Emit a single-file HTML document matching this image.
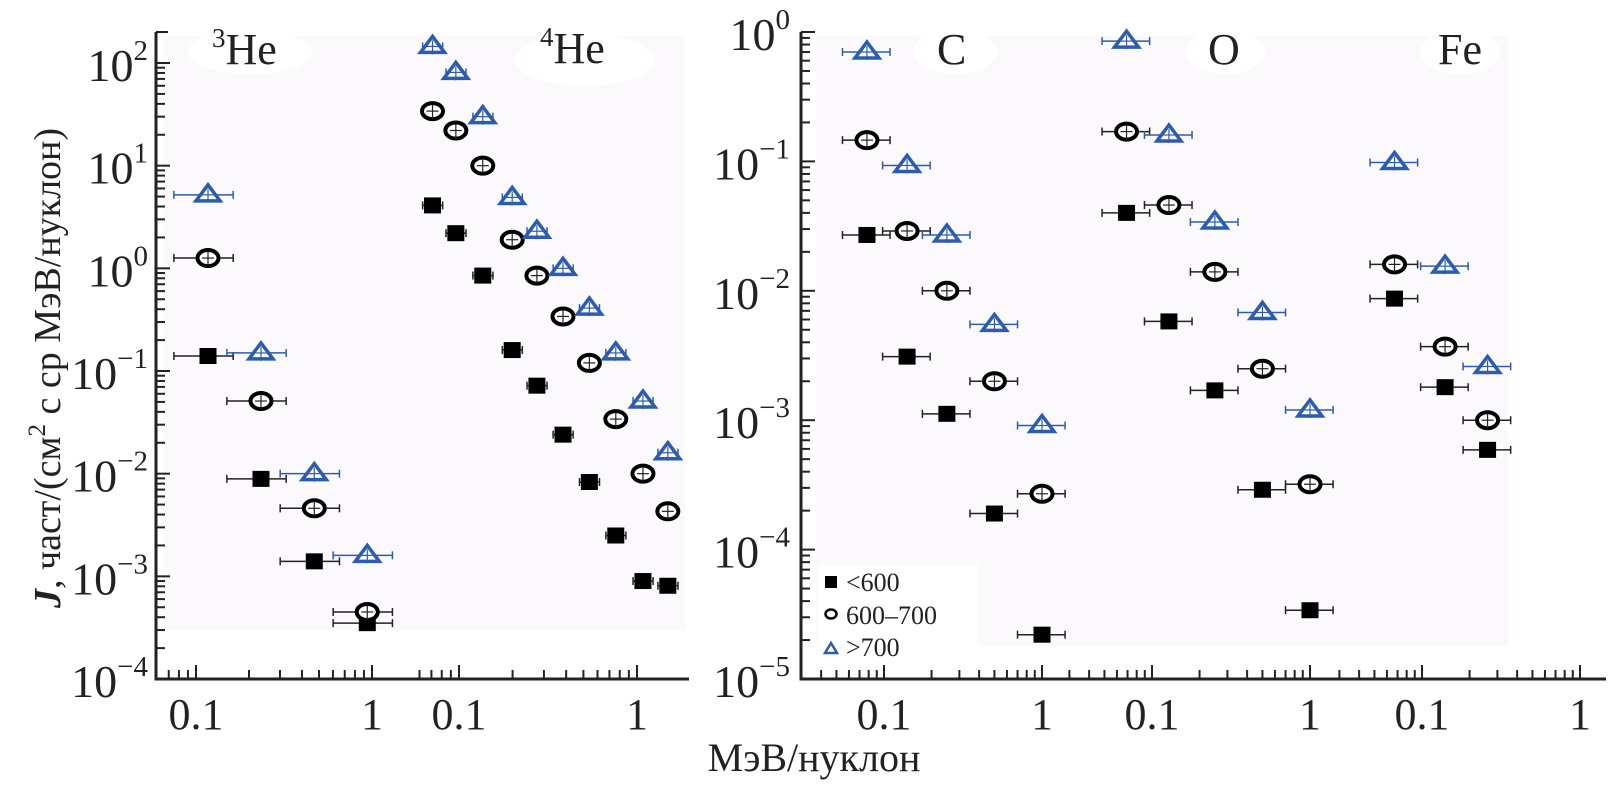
<!DOCTYPE html>
<html><head><meta charset="utf-8">
<style>
html,body{margin:0;padding:0;background:#fff;}
svg{display:block;font-family:"Liberation Serif","Noto Serif CJK SC",serif;}
svg text{font-family:"Liberation Serif","Noto Serif CJK SC",serif;}
</style></head>
<body>
<svg id="chart" width="1608" height="785" viewBox="0 0 1608 785" xmlns="http://www.w3.org/2000/svg" font-family="Liberation Serif, serif">
  <rect x="163" y="36" width="522" height="594" fill="#fcf9fc"/>
  <rect x="816" y="36" width="692" height="610" fill="#fcf9fc"/>
  <g id="blobs" fill="#fff">
    <ellipse cx="250" cy="52" rx="62" ry="22"/>
    <ellipse cx="585" cy="60" rx="70" ry="26"/>
    <ellipse cx="955" cy="52" rx="42" ry="22"/>
    <ellipse cx="1225" cy="52" rx="40" ry="22"/>
    <ellipse cx="1460" cy="52" rx="40" ry="22"/>
    <rect x="818" y="565" width="160" height="95"/>
  </g>
  <g id="axes"></g>
  <g id="marks"></g>
  <text x="212" y="64" font-size="44" fill="#222"><tspan font-size="27" dy="-17">3</tspan><tspan dy="17">He</tspan></text>
  <text x="540" y="63" font-size="44" fill="#222"><tspan font-size="27" dy="-17">4</tspan><tspan dy="17">He</tspan></text>
  <text x="937" y="64" font-size="44" fill="#222">C</text>
  <text x="1208" y="64" font-size="44" fill="#222">O</text>
  <text x="1438" y="64" font-size="44" fill="#222">Fe</text>
  <text transform="translate(60,368) rotate(-90)" text-anchor="middle" font-size="38" fill="#222"><tspan font-style="italic" font-weight="bold">J</tspan>, част/(см<tspan font-size="25" dy="-15">2</tspan><tspan dy="15"> с ср МэВ/нуклон)</tspan></text>
  <text x="814" y="771" text-anchor="middle" font-size="40" fill="#222">МэВ/нуклон</text>
  <g>
    <rect x="825" y="576" width="12" height="12" fill="#000"/>
    <text x="846" y="591" font-size="26" fill="#222">&lt;600</text>
    <ellipse cx="831" cy="614" rx="5.5" ry="4.5" fill="none" stroke="#000" stroke-width="2.5"/>
    <text x="846" y="624" font-size="26" fill="#222">600–700</text>
    <polygon points="825,653 837,653 831,643" fill="none" stroke="#2b5cb0" stroke-width="2.5"/>
    <text x="846" y="656" font-size="26" fill="#222">&gt;700</text>
  </g>
</svg>
<script>
// ---- data ----
const he3Energy = [0.117, 0.234, 0.47, 0.94];
const he3Low = [0.14, 0.0089, 0.0014, 0.00035];
const he3Mid = [1.26, 0.051, 0.0046, 0.00045];
const he3High = [5.2, 0.15, 0.010, 0.0016];

const he4Energy = [0.071, 0.096, 0.136, 0.199, 0.274, 0.384, 0.54, 0.76, 1.08, 1.49];
const he4Low = [4.1, 2.2, 0.85, 0.16, 0.072, 0.024, 0.0083, 0.0025, 0.0009, 0.00081];
const he4Mid = [34, 22, 10, 1.9, 0.85, 0.34, 0.12, 0.034, 0.010, 0.0043];
const he4High = [145, 81, 30, 4.9, 2.3, 1.0, 0.41, 0.15, 0.051, 0.016];

const cEnergy = [0.078, 0.14, 0.25, 0.5, 1.0];
const cLow = [0.027, 0.0031, 0.00112, 0.00019, 0.000022];
const cMid = [0.146, 0.029, 0.010, 0.0020, 0.00027];
const cHigh = [0.70, 0.093, 0.027, 0.0055, 0.00091];

const oEnergy = [0.069, 0.128, 0.25, 0.5, 1.0];
const oLow = [0.040, 0.0058, 0.0017, 0.00029, 0.000034];
const oMid = [0.17, 0.046, 0.014, 0.0025, 0.00032];
const oHigh = [0.85, 0.16, 0.034, 0.0068, 0.0012];

const feEnergy = [0.067, 0.14, 0.26];
const feLow = [0.0087, 0.0018, 0.00059];
const feMid = [0.016, 0.0037, 0.0010];
const feHigh = [0.098, 0.0155, 0.0026];

const leftYTicks = ["2", "1", "0", "−1", "−2", "−3", "−4"];
const rightYTicks = ["0", "−1", "−2", "−3", "−4", "−5"];
const xTickLabels = ["0.1", "1"];

// ---- scales ----
const L = Math.log10;
const yLeft = v => 63 + (2 - L(v)) * 102.67;
const yRight = v => 32 + (0 - L(v)) * 129.4;
const xHe3 = e => 372 + 176 * L(e);
const xHe4 = e => 637 + 178 * L(e);
const xC = e => 1042 + 158 * L(e);
const xO = e => 1310 + 158 * L(e);
const xFe = e => 1580 + 158 * L(e);

const NS = "http://www.w3.org/2000/svg";
const axes = document.getElementById("axes");
const marks = document.getElementById("marks");
function mk(tag, attrs, parent) {
  const el = document.createElementNS(NS, tag);
  for (const k in attrs) el.setAttribute(k, attrs[k]);
  parent.appendChild(el);
  return el;
}

function axisFrame(x0, x1, yTop, yBot, name) {
  const a = mk("line", {x1: x0, y1: yTop, x2: x0, y2: yBot, stroke: "#222", "stroke-width": 3}, axes);
  
  
  const b = mk("line", {x1: x0 - 1.5, y1: yBot, x2: x1, y2: yBot, stroke: "#222", "stroke-width": 3}, axes);
  
  
  const t = mk("line", {x1: x0, y1: yTop, x2: x0 + 12, y2: yTop, stroke: "#222", "stroke-width": 2}, axes);
  
  
}
axisFrame(156, 689, 32, 679, "left");
axisFrame(801, 1606, 32, 679, "right");

function yTicks(x0, yFn, decTop, decBot, labels, labelX, topV) {
  for (let d = decTop; d >= decBot; d--) {
    const y = yFn(Math.pow(10, d));
    const tk = mk("line", {x1: x0, y1: y, x2: x0 + 14, y2: y, stroke: "#222", "stroke-width": 2}, axes);
    
    
    const tx = mk("text", {x: labelX, y: y + 18, "text-anchor": "end", "font-size": 46, fill: "#222"}, axes);
    
    
    const idx = decTop - d;
    tx.innerHTML = '10<tspan font-size="29" dy="-21">' + labels[idx] + '</tspan>';
    if (d > decBot) {
      for (let m = 2; m <= 9; m++) {
        const ym = yFn(m * Math.pow(10, d - 1));
        const mt = mk("line", {x1: x0, y1: ym, x2: x0 + 9, y2: ym, stroke: "#222", "stroke-width": 2}, axes);
        
        
      }
    }
  }
  if (topV) {
    for (let m = 2; m <= 9; m++) {
      const v = m * Math.pow(10, decTop);
      if (v > topV) break;
      const ym = yFn(v);
      const mt = mk("line", {x1: x0, y1: ym, x2: x0 + 9, y2: ym, stroke: "#222", "stroke-width": 2}, axes);
      
      
    }
  }
}
yTicks(156, yLeft, 2, -4, leftYTicks, 148, 200);
yTicks(801, yRight, 0, -5, rightYTicks, 790, 0);

function xTicks(xFn, startMinor, yBot) {
  const vals = [];
  for (let m = startMinor; m <= 9; m++) vals.push(m * 0.01);
  for (let m = 1; m <= 10; m++) vals.push(m * 0.1);
  vals.forEach(v => {
    const major = Math.abs(v - 0.1) < 1e-9 || Math.abs(v - 1) < 1e-9;
    const x = xFn(v);
    const tk = mk("line", {x1: x, y1: yBot, x2: x, y2: yBot - (major ? 14 : 9), stroke: "#222", "stroke-width": 2}, axes);
    
    
  });
  [0.1, 1].forEach((v, i) => {
    const tx = mk("text", {x: xFn(v), y: yBot + 50, "text-anchor": "middle", "font-size": 44, fill: "#222"}, axes);
    
    
    tx.textContent = xTickLabels[i];
  });
}
xTicks(xHe3, 7, 679);
xTicks(xHe4, 6, 679);
xTicks(xC, 4, 679);
xTicks(xO, 3, 679);
xTicks(xFe, 3, 679);

// ---- marks ----
const BLUE = "#2b5cb0";
function errBar(x1, x2, y, color, w) {
  const l = mk("line", {x1: x1, y1: y, x2: x2, y2: y, stroke: color, "stroke-width": w}, marks);
  
  
  [x1, x2].forEach(xx => {
    const c = mk("line", {x1: xx, y1: y - 4, x2: xx, y2: y + 4, stroke: color, "stroke-width": w}, marks);
    
    
  });
}
function series(energy, values, xFn, yFn, kind, lo, hi, name) {
  energy.forEach((e, i) => {
    const x = xFn(e), y = yFn(values[i]);
    const color = kind === "tri" ? BLUE : "#222";
    errBar(xFn(e * lo), xFn(e * hi), y, color, 1.5);
    let el;
    if (kind === "sq") {
      el = mk("rect", {x: x - 8.5, y: y - 8, width: 17, height: 16, fill: "#000"}, marks);
    } else if (kind === "circ") {
      el = mk("ellipse", {cx: x, cy: y, rx: 10.5, ry: 8, fill: "#fff", stroke: "#000", "stroke-width": 4}, marks);
    } else {
      el = mk("polygon", {points: (x - 12) + "," + (y + 6) + " " + (x + 12) + "," + (y + 6) + " " + x + "," + (y - 10), fill: "#fff", stroke: BLUE, "stroke-width": 3.5, "stroke-linejoin": "miter"}, marks);
    }
    
    
    if (kind !== "sq") {
      const v = mk("line", {x1: x, y1: y - 6, x2: x, y2: y + 8, stroke: color, "stroke-width": 1.2}, marks);
      
      
      const h = mk("line", {x1: x - 6, y1: y, x2: x + 6, y2: y, stroke: color, "stroke-width": 1.2}, marks);
      
      
    }
  });
}
series(he3Energy, he3Low, xHe3, yLeft, "sq", 0.64, 1.39, "he3-lt600");
series(he3Energy, he3Mid, xHe3, yLeft, "circ", 0.64, 1.39, "he3-600-700");
series(he3Energy, he3High, xHe3, yLeft, "tri", 0.64, 1.39, "he3-gt700");
series(he4Energy, he4Low, xHe4, yLeft, "sq", 0.88, 1.14, "he4-lt600");
series(he4Energy, he4Mid, xHe4, yLeft, "circ", 0.88, 1.14, "he4-600-700");
series(he4Energy, he4High, xHe4, yLeft, "tri", 0.88, 1.14, "he4-gt700");
series(cEnergy, cLow, xC, yRight, "sq", 0.7, 1.4, "c-lt600");
series(cEnergy, cMid, xC, yRight, "circ", 0.7, 1.4, "c-600-700");
series(cEnergy, cHigh, xC, yRight, "tri", 0.7, 1.4, "c-gt700");
series(oEnergy, oLow, xO, yRight, "sq", 0.7, 1.4, "o-lt600");
series(oEnergy, oMid, xO, yRight, "circ", 0.7, 1.4, "o-600-700");
series(oEnergy, oHigh, xO, yRight, "tri", 0.7, 1.4, "o-gt700");
series(feEnergy, feLow, xFe, yRight, "sq", 0.7, 1.4, "fe-lt600");
series(feEnergy, feMid, xFe, yRight, "circ", 0.7, 1.4, "fe-600-700");
series(feEnergy, feHigh, xFe, yRight, "tri", 0.7, 1.4, "fe-gt700");
</script>
</body></html>
